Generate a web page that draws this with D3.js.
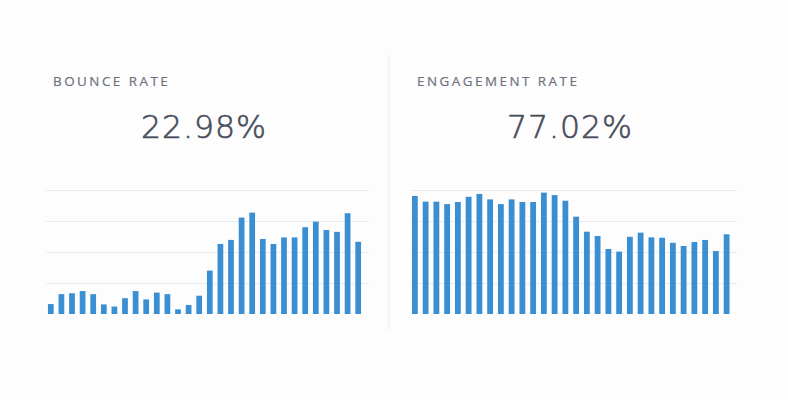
<!DOCTYPE html>
<html>
<head>
<meta charset="utf-8">
<script src="https://cdn.jsdelivr.net/npm/d3@7"></script>
<style>
  html, body { margin: 0; padding: 0; background: #fdfdfd; }
  svg { display: block; }
</style>
</head>
<body>
<div id="chart"></div>
<script>
// two KPI panels with daily sparkline bars

const days = d3.range(1, 31).map(d => `Day ${d}`);

const bounceRate = [3.2, 6.4, 6.7, 7.4, 6.4, 3.1, 2.4, 5.1, 7.4, 4.7,
                    6.9, 6.4, 1.5, 2.9, 5.9, 14.0, 22.6, 23.9, 31.1, 32.7,
                    24.2, 22.6, 24.7, 24.7, 28.0, 29.8, 27.1, 26.5, 32.5, 23.3];

const engagementRate = [96.8, 93.8, 93.8, 92.5, 93.6, 96.4, 97.9, 95.0, 92.5, 95.0,
                        93.6, 93.6, 98.6, 97.3, 94.3, 85.8, 77.8, 75.5, 68.6, 67.2,
                        75.1, 77.3, 74.8, 74.6, 71.9, 70.2, 72.3, 73.4, 67.5, 76.4];

const bounceGrid = [10, 20, 30, 40];
const engagementGrid = [50.5, 67, 83.5, 100];

const panels = [
  { title: "BOUNCE RATE", total: "22.98%", values: bounceRate, grid: bounceGrid,
    domain: [0, 40], gx: [46, 369], bx: [45.5, 363.5], titleX: 53, numX: 204 },
  { title: "ENGAGEMENT RATE", total: "77.02%", values: engagementRate, grid: engagementGrid,
    domain: [34, 100], gx: [411, 737], bx: [409.5, 732], titleX: 417, numX: 570 }
];

const WIDTH = 788, HEIGHT = 400;
const BASE = 314, TOP = 190;

const svg = d3.select("#chart").append("svg")
  .attr("width", WIDTH)
  .attr("height", HEIGHT);

svg.append("rect").attr("width", WIDTH).attr("height", HEIGHT).attr("fill", "#fdfdfd");

// faint divider between the panels
svg.append("line")
  .attr("x1", 389).attr("x2", 389)
  .attr("y1", 55).attr("y2", 330)
  .attr("stroke", "#f5f5f8")
  .attr("stroke-width", 2);

panels.forEach(p => {
  const g = svg.append("g");

  const x = d3.scaleBand()
    .domain(days)
    .range(p.bx)
    .paddingInner(0.46)
    .paddingOuter(0.23);

  const y = d3.scaleLinear()
    .domain(p.domain)
    .range([BASE, TOP]);

  // title
  g.append("text")
    .attr("x", p.titleX)
    .attr("y", 86)
    .attr("font-family", "'Open Sans', sans-serif")
    .attr("font-size", 13.4)
    .attr("letter-spacing", 2.5)
    .attr("stroke", "#6d717c")
    .attr("stroke-width", 0.2)
    .attr("fill", "#6d717c")
    .text(p.title);

  // headline number
  g.append("text")
    .attr("x", p.numX)
    .attr("y", 137.5)
    .attr("text-anchor", "middle")
    .attr("font-family", "'DejaVu Sans', sans-serif")
    .attr("font-weight", 200)
    .attr("font-size", 31.5)
    .attr("letter-spacing", 1)
    .attr("fill", "#474c59")
    .attr("stroke", "#474c59")
    .attr("stroke-width", 0.6)
    .text(p.total);

  // gridlines
  g.append("g")
    .selectAll("line")
    .data(p.grid)
    .join("line")
      .attr("x1", p.gx[0])
      .attr("x2", p.gx[1])
      .attr("y1", d => Math.round(y(d)) + 0.5)
      .attr("y2", d => Math.round(y(d)) + 0.5)
      .attr("stroke", "#ebebef")
      .attr("stroke-width", 1.2);

  // bars
  g.append("g")
    .selectAll("rect")
    .data(p.values)
    .join("rect")
      .attr("x", (d, i) => x(days[i]))
      .attr("width", x.bandwidth())
      .attr("y", d => y(d))
      .attr("height", d => BASE - y(d))
      .attr("fill", "#3a8ed2");
});
</script>
</body>
</html>
